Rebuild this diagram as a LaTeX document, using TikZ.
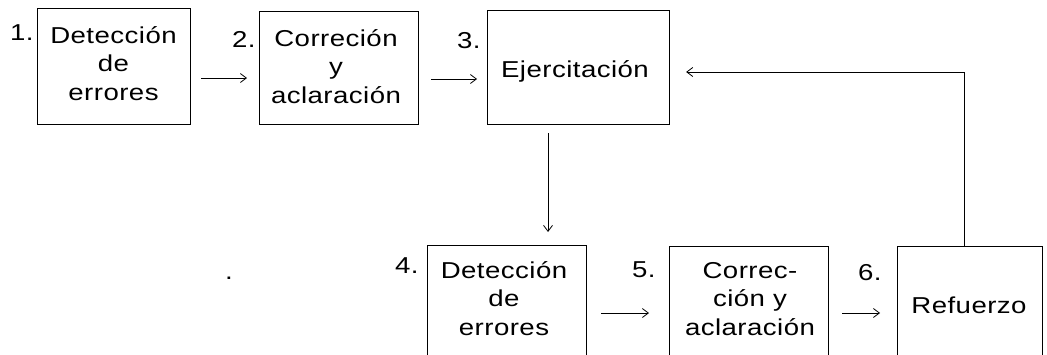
\documentclass[tikz,border=0pt]{standalone}
\usepackage{fontspec}
\setmainfont{Liberation Sans}[FakeStretch=1.2,LetterSpace=2]
\usetikzlibrary{arrows.meta}
\begin{document}
\begin{tikzpicture}[x=1pt,y=-1pt,
  box/.style={draw,line width=1.1pt,inner sep=0pt,anchor=north west},
  txt/.style={font=\fontsize{23}{28.5}\selectfont,align=center,anchor=base,inner sep=0pt},
  num/.style={font=\fontsize{23}{28.5}\selectfont,anchor=base west,inner sep=0pt},
  arr/.style={line width=0.8pt,-{Straight Barb[length=6pt,width=9pt]}},
  ln/.style={line width=0.8pt}]
\useasboundingbox (0,0) rectangle (1047,354);
\clip (0,0) rectangle (1047,354);
% boxes
\node[box,minimum width=153pt,minimum height=116pt] (b1) at (37,8) {};
\node[box,minimum width=159pt,minimum height=113pt] (b2) at (259,11) {};
\node[box,minimum width=182pt,minimum height=114pt] (b3) at (487,10) {};
\node[box,minimum width=159pt,minimum height=116pt] (b4) at (427,245) {};
\node[box,minimum width=159pt,minimum height=116pt] (b5) at (669,246) {};
\node[box,minimum width=145pt,minimum height=116pt] (b6) at (897,246) {};
% texts (anchor base = baseline of the last line)
\node[txt] (t1) at (113.5,100) {Detección\\de\\errores};
\node[txt] (t2) at (336,103) {Correción\\y\\aclaración};
\node[txt] (t3) at (575,77) {Ejercitación};
\node[txt] (t4) at (504,335) {Detección\\de\\errores};
\node[txt] (t5) at (750,335) {Correc-\\ción y\\aclaración};
\node[txt] (t6) at (969,313) {Refuerzo};
% numbers
\node[num] (n1) at (10,40) {1.};
\node[num] (n2) at (232,47) {2.};
\node[num] (n3) at (457,48) {3.};
\node[num] (n4) at (395,273) {4.};
\node[num] (n5) at (632,277) {5.};
\node[num] (n6) at (858,280) {6.};
\node[txt] (dot) at (229,279) {.};
% connectors
\draw[arr,shorten <=10pt,shorten >=12pt] (b1.east |- 0,78) -- (b2.west |- 0,78);
\draw[arr,shorten <=12pt,shorten >=10pt] (b2.east |- 0,79) -- (b3.west |- 0,79);
\draw[arr,shorten <=8pt,shorten >=13pt] (b3.south -| 548,0) -- (b4.north -| 548,0);
\draw[arr,shorten <=14pt,shorten >=20pt] (b4.east |- 0,313) -- (b5.west |- 0,313);
\draw[arr,shorten <=13pt,shorten >=17pt] (b5.east |- 0,313) -- (b6.west |- 0,313);
\coordinate (fb) at (964,72);
\draw[arr,shorten >=16pt] (b6.north -| fb) -- (fb) -- (b3.east |- fb);
\end{tikzpicture}
\end{document}
